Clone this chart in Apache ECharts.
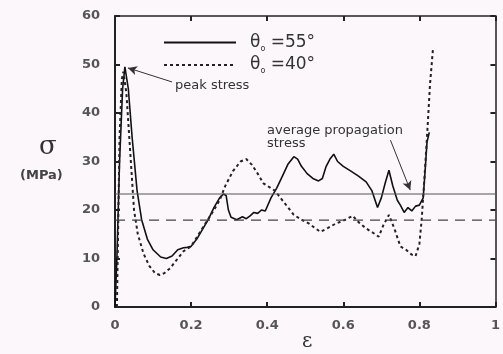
<!DOCTYPE html>
<html>
<head>
<meta charset="utf-8">
<script src="https://cdn.jsdelivr.net/npm/echarts@6/dist/echarts.min.js"></script>
<style>
  html, body { margin: 0; padding: 0; background: #fcf7fb; }
  #chart { width: 503px; height: 354px; }
</style>
</head>
<body>
<div id="chart"></div>
<script>
// theta_o = 55 deg (solid)
const curve55 = [
  [0, 0], [0.005, 10], [0.012, 30], [0.02, 45], [0.026, 49.5], [0.035, 45], [0.045, 35],
  [0.058, 24], [0.07, 18], [0.085, 14], [0.1, 11.8], [0.12, 10.3], [0.135, 10], [0.15, 10.5],
  [0.165, 11.8], [0.18, 12.2], [0.19, 12.3], [0.2, 12.5], [0.215, 14], [0.23, 16], [0.245, 18],
  [0.26, 20.5], [0.275, 22.5], [0.285, 23.3], [0.292, 23], [0.298, 20], [0.305, 18.5],
  [0.32, 18], [0.335, 18.6], [0.345, 18.2], [0.355, 18.8], [0.365, 19.5], [0.375, 19.3],
  [0.385, 20], [0.395, 19.8], [0.41, 22.5], [0.425, 24.5], [0.44, 27], [0.455, 29.5],
  [0.47, 31], [0.48, 30.5], [0.49, 29], [0.505, 27.5], [0.52, 26.5], [0.535, 26], [0.545, 26.5],
  [0.555, 29], [0.565, 30.5], [0.575, 31.5], [0.585, 30], [0.6, 29], [0.62, 28], [0.64, 27],
  [0.66, 25.8], [0.675, 24], [0.69, 20.5], [0.7, 22.5], [0.71, 25.5], [0.72, 28.2], [0.73, 25],
  [0.742, 22], [0.75, 21], [0.76, 19.5], [0.77, 20.5], [0.78, 19.8], [0.79, 20.8], [0.8, 21],
  [0.81, 22.5], [0.815, 28], [0.82, 34], [0.826, 36]
];
// theta_o = 40 deg (dotted)
const curve40 = [
  [0.005, 0], [0.008, 15], [0.012, 35], [0.018, 47], [0.022, 48.5], [0.03, 44], [0.04, 32],
  [0.05, 20], [0.06, 15], [0.075, 11], [0.09, 8.5], [0.105, 7], [0.118, 6.6], [0.13, 7],
  [0.145, 8], [0.16, 9.5], [0.18, 11.5], [0.2, 12.5], [0.22, 15], [0.24, 17.5], [0.26, 20],
  [0.275, 22], [0.29, 25], [0.31, 28], [0.33, 30], [0.345, 30.5], [0.36, 29.3], [0.375, 27.5],
  [0.39, 25.5], [0.42, 24], [0.44, 22], [0.455, 20.5], [0.47, 19], [0.49, 18], [0.51, 17.2],
  [0.525, 16.3], [0.54, 15.5], [0.56, 16.3], [0.58, 17.2], [0.6, 17.8], [0.625, 18.8],
  [0.64, 17.5], [0.66, 16.2], [0.68, 15.2], [0.693, 14.5], [0.705, 16.8], [0.72, 19],
  [0.735, 16], [0.75, 12.5], [0.765, 11.8], [0.78, 10.8], [0.79, 10.5], [0.8, 13], [0.806, 18],
  [0.812, 25], [0.82, 35], [0.828, 46], [0.836, 53.5]
];
// average propagation stress levels
const avg55 = 23.3;
const avg40 = 17.9;
const xTicks = [0, 0.2, 0.4, 0.6, 0.8, 1];
const yTicks = [0, 10, 20, 30, 40, 50, 60];
const legendNames = ['θo =55°', 'θo =40°'];
// annotation arrows [from, to] in data units
const peakArrow = [[0.15, 46.4], [0.034, 49.3]];
const avgArrow = [[0.724, 34.4], [0.776, 24.1]];

const chart = echarts.init(document.getElementById('chart'));
const font = 'DejaVu Sans';
const ink = '#222';

function axisStyle(w) {
  return {
    axisLine: { show: true, onZero: false, lineStyle: { color: ink, width: w } },
    axisTick: { show: true, inside: true, length: 5, lineStyle: { color: ink, width: 2 } },
    splitLine: { show: false }
  };
}

option = {
  backgroundColor: '#fcf7fb',
  animation: false,
  grid: { left: 115, right: 1, top: 16, bottom: 47 },
  legend: {
    orient: 'vertical',
    left: 158,
    top: 29,
    itemWidth: 72,
    itemHeight: 14,
    itemGap: 4,
    data: ['s55', 's40'],
    itemStyle: { opacity: 0 },
    formatter: function (name) {
      const label = name === 's55' ? legendNames[0] : legendNames[1];
      return '{t|θ}{s|o}{t|' + label.slice(2) + '}';
    },
    textStyle: {
      padding: [0, 0, 0, 9],
      rich: {
        t: { fontFamily: font, fontSize: 17, color: '#333', lineHeight: 20 },
        s: { fontFamily: font, fontSize: 8, color: '#333', lineHeight: 20, verticalAlign: 'bottom', padding: [8, 0, 0, 0] }
      }
    }
  },
  xAxis: [
    Object.assign({
      type: 'value', min: 0, max: 1, interval: 0.2,
      axisLabel: {
        margin: 12, color: '#555', fontFamily: font, fontWeight: 'bold', fontSize: 13,
        formatter: v => xTicks.includes(v) ? String(v) : ''
      }
    }, axisStyle(2)),
    Object.assign({
      type: 'value', min: 0, max: 1, interval: 0.2, position: 'top',
      axisLabel: { show: false }
    }, axisStyle(1.5))
  ],
  yAxis: [
    Object.assign({
      type: 'value', min: 0, max: 60, interval: 10,
      axisLabel: {
        margin: 15, color: '#555', fontFamily: font, fontWeight: 'bold', fontSize: 13,
        formatter: v => yTicks.includes(v) ? String(v) : ''
      }
    }, axisStyle(2)),
    Object.assign({
      type: 'value', min: 0, max: 60, interval: 10, position: 'right',
      axisLabel: { show: false }
    }, axisStyle(1.5))
  ],
  series: [
    {
      name: 's55', type: 'line', data: curve55, showSymbol: false, symbol: 'none',
      itemStyle: { color: '#111' },
      lineStyle: { color: '#111', width: 1.6 },
      markLine: {
        silent: true, symbol: ['none', 'arrow'], symbolSize: [7, 9],
        lineStyle: { color: '#333', width: 1, type: 'solid' }, label: { show: false },
        data: [
          [{ coord: peakArrow[0] }, { coord: peakArrow[1] }],
          [{ coord: avgArrow[0] }, { coord: avgArrow[1] }]
        ]
      }
    },
    {
      name: 's40', type: 'line', data: curve40, showSymbol: false, symbol: 'none',
      itemStyle: { color: '#222' },
      lineStyle: { color: '#222', width: 2, type: [3, 3] }
    },
    {
      name: 'avg55', type: 'line', data: [[0, avg55], [1, avg55]], showSymbol: false, symbol: 'none',
      lineStyle: { color: '#555', width: 1.2 }
    },
    {
      name: 'avg40', type: 'line', data: [[0, avg40], [1, avg40]], showSymbol: false, symbol: 'none',
      lineStyle: { color: '#444', width: 1.2, type: [10, 7] }
    }
  ],
  graphic: [
    { type: 'text', left: 175, top: 79, style: { text: 'peak stress', font: '13px "DejaVu Sans"', fill: '#333' } },
    { type: 'text', left: 267, top: 124, style: { text: 'average propagation\nstress', font: '13px "DejaVu Sans"', fill: '#333', lineHeight: 13 } },
    { type: 'text', left: 39, top: 134, style: { text: 'σ', font: '26px "DejaVu Serif"', fill: '#333' } },
    { type: 'text', left: 20, top: 169, style: { text: '(MPa)', font: 'bold 13px "DejaVu Sans"', fill: '#444' } },
    { type: 'text', left: 302, top: 332, style: { text: 'ε', font: '20px "DejaVu Serif"', fill: '#333' } }
  ]
};

chart.setOption(option);
</script>
</body>
</html>
